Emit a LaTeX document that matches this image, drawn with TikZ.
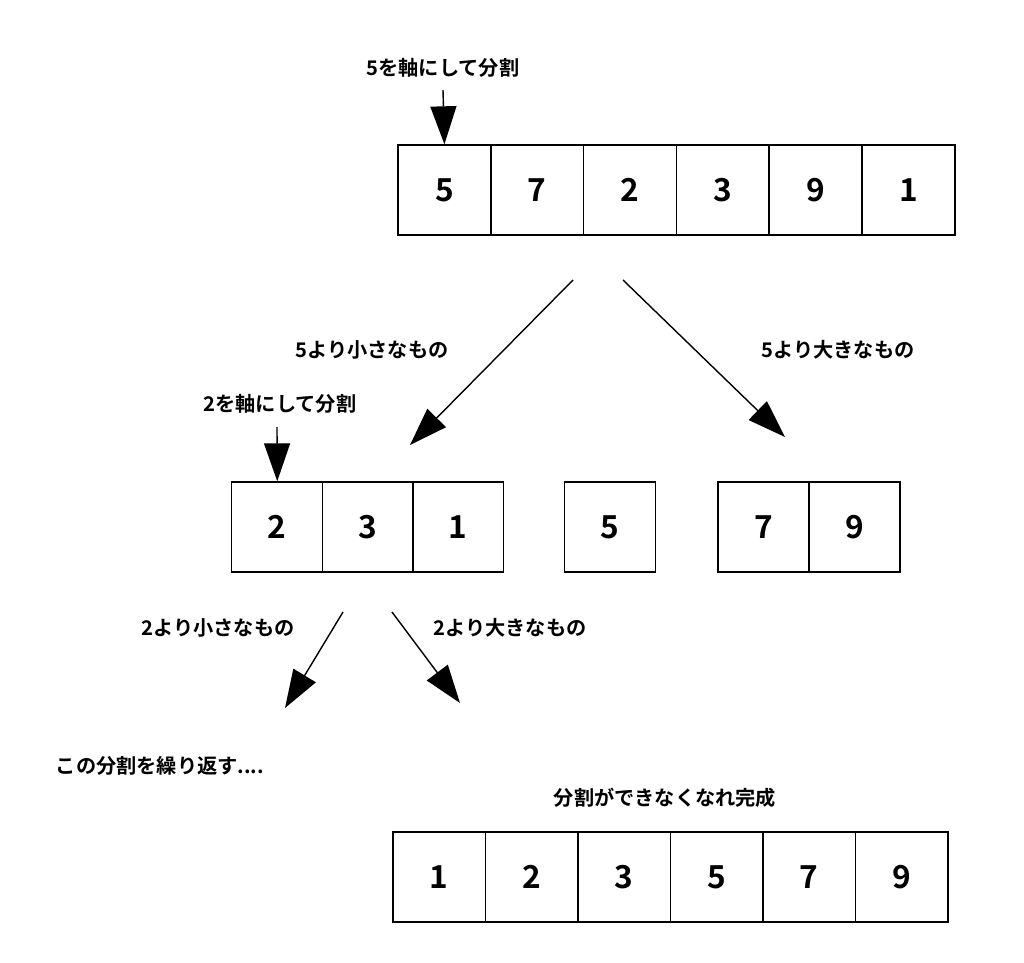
\documentclass[tikz,border=0pt]{standalone}
\usepackage{fontspec}
\setmainfont{Noto Sans CJK JP}[BoldFont={Noto Sans CJK JP Bold}]
\usetikzlibrary{arrows.meta,positioning}

\tikzset{
  cell/.style={draw, thick, minimum width=1.82cm, minimum height=1.8cm, inner sep=0pt, font=\bfseries\fontsize{18}{18}\selectfont},
  lbl/.style={font=\bfseries\fontsize{11.5}{13}\selectfont},
  arr/.style={thick, -{Triangle[width=0.52cm,length=0.76cm]}}
}

\begin{document}
\begin{tikzpicture}[x=0.02cm, y=-0.02cm]
    \useasboundingbox (0,0) rectangle (1024,963);

    % first row
    \foreach \v [count=\i] in {5,7,2,3,9,1}
        \node[cell, minimum width=1.857cm] (a\i) at ({398+92.8*(\i-0.5)}, 190) {\v};
    \node[lbl] (pa) at (443, 68) {5を軸にして分割};
    \coordinate (pa0) at (443, 90);
    \draw[arr] (pa0) -- (a1.north);

    % split
    \coordinate (s1) at (573, 280);
    \coordinate (e1) at (410, 445);
    \coordinate (s2) at (623, 280);
    \coordinate (e2) at (785, 437);
    \draw[arr] (s1) -- (e1);
    \draw[arr] (s2) -- (e2);
    \node[lbl] (lo) at (372, 350) {5より小さなもの};
    \node[lbl] (hi) at (838, 350) {5より大きなもの};

    % second row
    \foreach \v [count=\i] in {2,3,1}
        \node[cell] (b\i) at ({232+90.5*(\i-0.5)}, 527) {\v};
    \node[cell] (c1) at (610, 527) {5};
    \foreach \v [count=\i] in {7,9}
        \node[cell] (d\i) at ({718+91*(\i-0.5)}, 527) {\v};
    \node[lbl] (pb) at (280, 404) {2を軸にして分割};
    \coordinate (pb0) at (277, 427);
    \draw[arr] (pb0) -- (b1.north);

    \coordinate (s3) at (343, 612);
    \coordinate (e3) at (285, 708);
    \coordinate (s4) at (392, 612);
    \coordinate (e4) at (460, 703);
    \draw[arr] (s3) -- (e3);
    \draw[arr] (s4) -- (e4);
    \node[lbl] (lo2) at (218, 628) {2より小さなもの};
    \node[lbl] (hi2) at (510, 628) {2より大きなもの};

    \node[lbl] (rep) at (160, 766) {この分割を繰り返す....};
    \node[lbl] (fin) at (665, 798) {分割ができなくなれ完成};

    % result
    \foreach \v [count=\i] in {1,2,3,5,7,9}
        \node[cell, minimum width=1.85cm] (r\i) at ({393+92.5*(\i-0.5)}, 877) {\v};
\end{tikzpicture}
\end{document}
